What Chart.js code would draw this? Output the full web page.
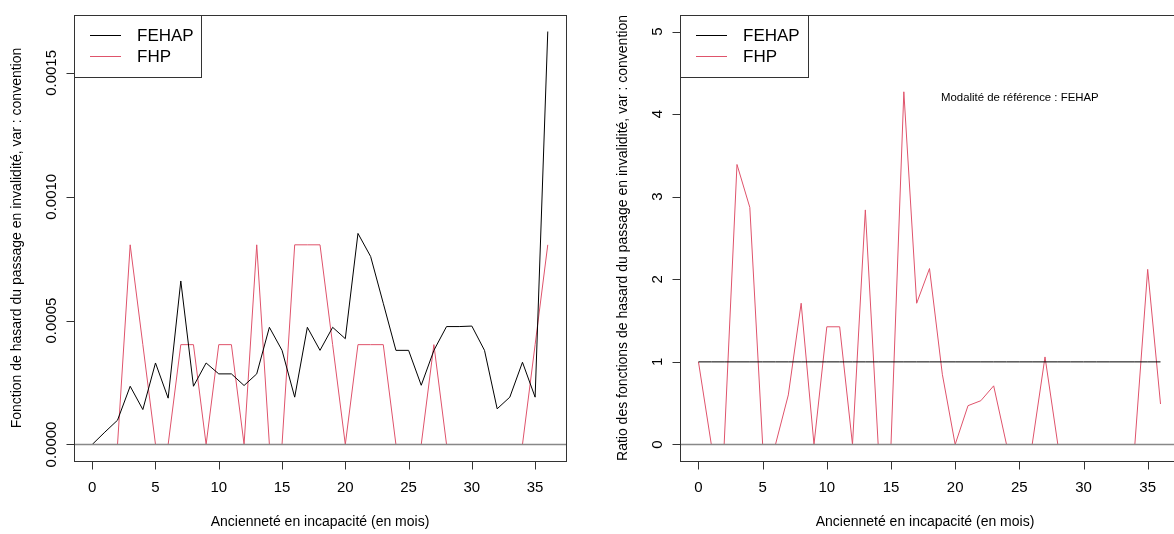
<!DOCTYPE html>
<html>
<head>
<meta charset="utf-8">
<script src="https://cdn.jsdelivr.net/npm/chart.js@4.4.1/dist/chart.umd.min.js"></script>
<style>
  body { margin: 0; width: 1174px; height: 534px; overflow: hidden; background: #fff; position: relative; }
  canvas { position: absolute; top: 0; }
</style>
</head>
<body>
<canvas id="hazard-chart" width="600" height="534" style="left:0"></canvas>
<canvas id="ratio-chart" width="600" height="534" style="left:600px"></canvas>
<script>
"use strict";

// Ancienneté en mois
const months = [0, 1, 2, 3, 4, 5, 6, 7, 8, 9, 10, 11, 12, 13, 14, 15, 16, 17, 18,
  19, 20, 21, 22, 23, 24, 25, 26, 27, 28, 29, 30, 31, 32, 33, 34, 35, 36];

// Fonction de hasard (panneau de gauche)
const fehapHazard = [0, 0.00005, 0.000098, 0.000235, 0.000141, 0.000329, 0.000187, 0.00066,
  0.000235, 0.000329, 0.000285, 0.000285, 0.000238, 0.000285, 0.000473, 0.00038, 0.000191,
  0.000473, 0.00038, 0.000473, 0.000427, 0.000852, 0.000759, 0.00057, 0.00038, 0.00038,
  0.000239, 0.00038, 0.000476, 0.000476, 0.000478, 0.00038, 0.000144, 0.000191, 0.000332,
  0.000191, 0.001667];
const fhpHazard = [0, 0, 0, 0.000806, 0.000403, 0, 0, 0.000403, 0.000403, 0, 0.000403,
  0.000403, 0, 0.000806, 0, 0, 0.000806, 0.000806, 0.000806, 0.000403, 0, 0.000403,
  0.000403, 0.000403, 0, 0, 0, 0.000403, 0, 0, 0, 0, 0, 0, 0, 0.000403, 0.000806];

// Ratio des fonctions de hasard (panneau de droite), référence FEHAP
const fehapRatio = [1, 1, 1, 1, 1, 1, 1, 1, 1, 1, 1, 1, 1, 1, 1, 1, 1, 1, 1, 1, 1, 1, 1,
  1, 1, 1, 1, 1, 1, 1, 1, 1, 1, 1, 1, 1, 1];
const fhpRatio = [1, 0, 0, 3.39, 2.87, 0, 0, 0.6, 1.71, 0, 1.425, 1.425, 0, 2.84, 0, 0,
  4.27, 1.71, 2.13, 0.85, 0, 0.47, 0.53, 0.71, 0, 0, 0, 1.06, 0, 0, 0, 0, 0, 0, 0, 2.12, 0.49];

const seriesNames = ["FEHAP", "FHP"];
const xTicks = [0, 5, 10, 15, 20, 25, 30, 35];
const hazardTicks = [0, 0.0005, 0.0010, 0.0015];
const hazardTickLabels = ["0.0000", "0.0005", "0.0010", "0.0015"];
const ratioTicks = [0, 1, 2, 3, 4, 5];
const ratioTickLabels = ["0", "1", "2", "3", "4", "5"];

const FONT = "'Liberation Sans', Arial, sans-serif";
const RED = "#DF536B";
const BOX = "#333";

// Dessine les axes façon R (base graphics)
const rAxes = {
  id: "rAxes",
  afterDatasetsDraw(chart, args, opts) {
    const ctx = chart.ctx;
    const a = chart.chartArea;
    const xs = chart.scales.x;
    const ys = chart.scales.y;
    ctx.save();

    // ligne horizontale à 0
    const y0 = Math.round(ys.getPixelForValue(0)) + 0.5;
    ctx.strokeStyle = "#888";
    ctx.lineWidth = 1.5;
    ctx.beginPath();
    ctx.moveTo(a.left, y0);
    ctx.lineTo(a.right, y0);
    ctx.stroke();

    ctx.strokeStyle = BOX;
    ctx.lineWidth = 1;
    ctx.strokeRect(Math.round(a.left) + 0.5, Math.round(a.top) + 0.5,
      Math.round(a.right - a.left), Math.round(a.bottom - a.top));

    // axe x
    ctx.fillStyle = "#000";
    ctx.font = "15px " + FONT;
    ctx.textAlign = "center";
    ctx.textBaseline = "middle";
    const yb = Math.round(a.bottom) + 0.5;
    ctx.beginPath();
    xTicks.forEach(function (t) {
      const px = Math.round(xs.getPixelForValue(t)) + 0.5;
      ctx.moveTo(px, yb);
      ctx.lineTo(px, yb + 8);
    });
    ctx.stroke();
    xTicks.forEach(function (t) {
      ctx.fillText(String(t), xs.getPixelForValue(t), a.bottom + 27);
    });

    // axe y
    const xl = Math.round(a.left) + 0.5;
    ctx.beginPath();
    ctx.moveTo(xl, ys.getPixelForValue(opts.yTicks[0]));
    ctx.lineTo(xl, ys.getPixelForValue(opts.yTicks[opts.yTicks.length - 1]));
    opts.yTicks.forEach(function (t) {
      const py = Math.round(ys.getPixelForValue(t)) + 0.5;
      ctx.moveTo(xl, py);
      ctx.lineTo(xl - 8, py);
    });
    ctx.stroke();
    opts.yTicks.forEach(function (t, i) {
      ctx.save();
      ctx.translate(a.left - 22, ys.getPixelForValue(t));
      ctx.rotate(-Math.PI / 2);
      ctx.fillText(opts.yTickLabels[i], 0, 0);
      ctx.restore();
    });

    // titres
    ctx.font = "14px " + FONT;
    ctx.fillText("Ancienneté en incapacité (en mois)", opts.xTitleX, 522);
    ctx.save();
    ctx.translate(a.left - 57, (a.top + a.bottom) / 2);
    ctx.rotate(-Math.PI / 2);
    ctx.fillText(opts.yTitle, 0, 0);
    ctx.restore();

    // légende
    const lw = opts.legendWidth;
    ctx.fillStyle = "#fff";
    ctx.fillRect(xl, Math.round(a.top) + 0.5, lw, 62);
    ctx.strokeRect(xl, Math.round(a.top) + 0.5, lw, 62);
    ctx.font = "17px " + FONT;
    ctx.textAlign = "left";
    [["#000", 35], [RED, 56]].forEach(function (e, i) {
      ctx.strokeStyle = e[0];
      ctx.beginPath();
      ctx.moveTo(a.left + 16, a.top + e[1] - 15 + 0.5);
      ctx.lineTo(a.left + 47, a.top + e[1] - 15 + 0.5);
      ctx.stroke();
      ctx.fillStyle = "#000";
      ctx.fillText(seriesNames[i], a.left + 63, a.top + e[1] - 14);
    });

    if (opts.note) {
      ctx.font = "11.4px " + FONT;
      ctx.fillText(opts.note, opts.noteX, 98);
    }
    ctx.restore();
  }
};

function renderChart(canvasId, blackData, redData, yMin, yMax, padding, axisOpts) {
  const ctx = document.getElementById(canvasId).getContext("2d");
  return new Chart(ctx, {
    type: "line",
    data: {
      labels: months,
      datasets: [
        { label: seriesNames[0], data: blackData, borderColor: "#000", borderWidth: 1 },
        { label: seriesNames[1], data: redData, borderColor: RED, borderWidth: 1 },
      ],
    },
    options: {
      responsive: false,
      animation: false,
      layout: { padding: padding },
      elements: { point: { radius: 0 }, line: { tension: 0 } },
      scales: {
        x: { type: "linear", min: -1.44, max: 37.44, display: false },
        y: { min: yMin, max: yMax, display: false },
      },
      plugins: {
        legend: { display: false },
        tooltip: { enabled: false },
        rAxes: axisOpts,
      },
    },
    plugins: [rAxes],
  });
}

const hazardMax = Math.max.apply(null, fehapHazard);
const hazardChart = renderChart("hazard-chart", fehapHazard, fhpHazard,
  -0.04 * hazardMax, 1.04 * hazardMax,
  { left: 74, right: 34, top: 15, bottom: 73 },
  {
    yTicks: hazardTicks, yTickLabels: hazardTickLabels,
    yTitle: "Fonction de hasard du passage en invalidité, var : convention",
    xTitleX: 320, legendWidth: 127,
  });

const ratioChart = renderChart("ratio-chart", fehapRatio, fhpRatio,
  -0.2, 5.2,
  { left: 80, right: 21, top: 15, bottom: 73 },
  {
    yTicks: ratioTicks, yTickLabels: ratioTickLabels,
    yTitle: "Ratio des fonctions de hasard du passage en invalidité, var : convention",
    xTitleX: 325, legendWidth: 128,
    note: "Modalité de référence : FEHAP", noteX: 341,
  });
</script>
</body>
</html>
